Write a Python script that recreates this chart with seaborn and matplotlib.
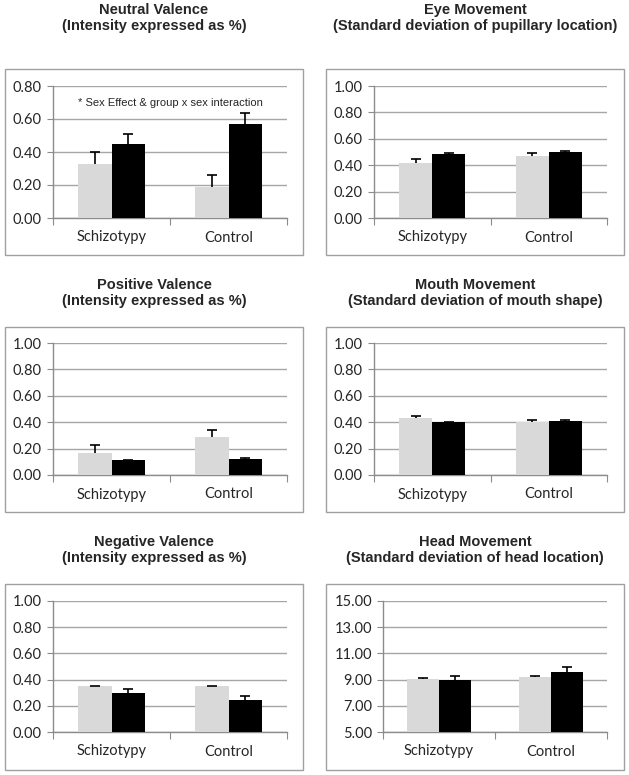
import numpy as np
import pandas as pd
import seaborn as sns
import matplotlib.pyplot as plt
from matplotlib.patches import Rectangle

groups = ["Schizotypy", "Control"]
sexes = ["light", "dark"]

# values: (light bar, dark bar) per group
neutral_light = [0.33, 0.19]
neutral_dark = [0.45, 0.57]
neutral_err_light = [0.07, 0.07]
neutral_err_dark = [0.06, 0.065]

eye_light = [0.42, 0.47]
eye_dark = [0.485, 0.50]
eye_err_light = [0.025, 0.025]
eye_err_dark = [0.008, 0.008]

positive_light = [0.17, 0.285]
positive_dark = [0.11, 0.12]
positive_err_light = [0.06, 0.055]
positive_err_dark = [0.006, 0.006]

mouth_light = [0.43, 0.40]
mouth_dark = [0.40, 0.41]
mouth_err_light = [0.015, 0.015]
mouth_err_dark = [0.005, 0.005]

negative_light = [0.35, 0.35]
negative_dark = [0.30, 0.245]
negative_err_light = [0.004, 0.004]
negative_err_dark = [0.03, 0.03]

head_light = [9.05, 9.2]
head_dark = [8.95, 9.6]
head_err_light = [0.08, 0.1]
head_err_dark = [0.3, 0.35]

titles = ["Neutral Valence\n(Intensity expressed as %)",
          "Eye Movement\n(Standard deviation of pupillary location)",
          "Positive Valence\n(Intensity expressed as %)",
          "Mouth Movement\n(Standard deviation of mouth shape)",
          "Negative Valence\n(Intensity expressed as %)",
          "Head Movement\n(Standard deviation of head location)"]

panels = [
    (neutral_light, neutral_dark, neutral_err_light, neutral_err_dark, (0, 0.8), [0, 0.2, 0.4, 0.6, 0.8]),
    (eye_light, eye_dark, eye_err_light, eye_err_dark, (0, 1.0), [0, 0.2, 0.4, 0.6, 0.8, 1.0]),
    (positive_light, positive_dark, positive_err_light, positive_err_dark, (0, 1.0), [0, 0.2, 0.4, 0.6, 0.8, 1.0]),
    (mouth_light, mouth_dark, mouth_err_light, mouth_err_dark, (0, 1.0), [0, 0.2, 0.4, 0.6, 0.8, 1.0]),
    (negative_light, negative_dark, negative_err_light, negative_err_dark, (0, 1.0), [0, 0.2, 0.4, 0.6, 0.8, 1.0]),
    (head_light, head_dark, head_err_light, head_err_dark, (5, 15), [5, 7, 9, 11, 13, 15]),
]

W, H = 629, 775
sns.set_style("white")
plt.rcParams['font.family'] = ['Lato', 'DejaVu Sans']

fig = plt.figure(figsize=(W / 100, H / 100), dpi=100)

# pixel layout: (box top, box bottom, axes top, axes bottom, title y)
rows = [(69, 255, 86, 218, 3), (327, 512, 343, 475, 278), (584, 770, 601, 732, 535)]
cols = [(5, 303, 53, 287), (326, 624, 374, 607)]

grid_col = "#a6a6a6"

for i, (lt, dk, el, ed, ylim, yticks) in enumerate(panels):
    r, c = divmod(i, 2)
    btop, bbot, atop, abot, ty = rows[r]
    bl, br, al, ar = cols[c]
    if i == 5:
        al = 383  # wider tick labels push the axis right

    fig.patches.append(Rectangle((bl / W, 1 - bbot / H), (br - bl) / W, (bbot - btop) / H,
                                 transform=fig.transFigure, fill=False,
                                 edgecolor="#a0a0a0", lw=1.0))
    fig.text(((bl + br) / 2) / W, 1 - ty / H, titles[i], ha="center", va="top",
             fontsize=10.5, fontweight="bold", family="Liberation Sans", linespacing=1.2)

    ax = fig.add_axes([al / W, 1 - abot / H, (ar - al) / W, (abot - atop) / H])
    df = pd.DataFrame({"group": groups * 2,
                       "sex": [sexes[0]] * 2 + [sexes[1]] * 2,
                       "value": lt + dk})
    sns.barplot(data=df, x="group", y="value", hue="sex", order=groups, hue_order=sexes,
                palette=["#d9d9d9", "#000000"], width=0.57, legend=False,
                errorbar=None, ax=ax, zorder=3, linewidth=0)
    errs = el + ed
    for p, e in zip(ax.patches, errs):
        xc = p.get_x() + p.get_width() / 2
        top = p.get_y() + p.get_height()
        _, caps, _ = ax.errorbar(xc, top, yerr=[[0], [e]], fmt="none", ecolor="black",
                                 elinewidth=1.2, capsize=3.5, capthick=1.2, zorder=4)
        # only the upper cap, like the original
        caps[0].set_visible(False)

    ax.set_ylim(*ylim)
    ax.set_yticks(yticks)
    ax.set_yticklabels([f"{t:.2f}" for t in yticks])
    ax.set_xlim(-0.5, 1.5)
    ax.yaxis.grid(True, color=grid_col, lw=1.0, zorder=0)
    ax.set_axisbelow(True)
    ax.set_xlabel("")
    ax.set_ylabel("")
    for s in ["top", "right"]:
        ax.spines[s].set_visible(False)
    for s in ["left", "bottom"]:
        ax.spines[s].set_color("#8c8c8c")
        ax.spines[s].set_linewidth(1.0)
    # category boundary ticks on x axis
    ax.set_xticks([-0.5, 0.5, 1.5], minor=False)
    ax.set_xticklabels([])
    ax.set_xticks([0, 1], minor=True)
    ax.set_xticklabels(groups, minor=True, fontsize=10.5)
    ax.tick_params(axis="x", which="major", length=5, color="#8c8c8c", bottom=True)
    ax.tick_params(axis="x", which="minor", length=0, pad=9)
    ax.tick_params(axis="y", length=4, color="#8c8c8c", labelsize=10.5, left=True, pad=4)

    if i == 0:
        ax.text(0.5, 0.70, "* Sex Effect & group x sex interaction", ha="center", va="center",
                fontsize=8, family="Liberation Sans")

fig.savefig("out.png", dpi=100)
